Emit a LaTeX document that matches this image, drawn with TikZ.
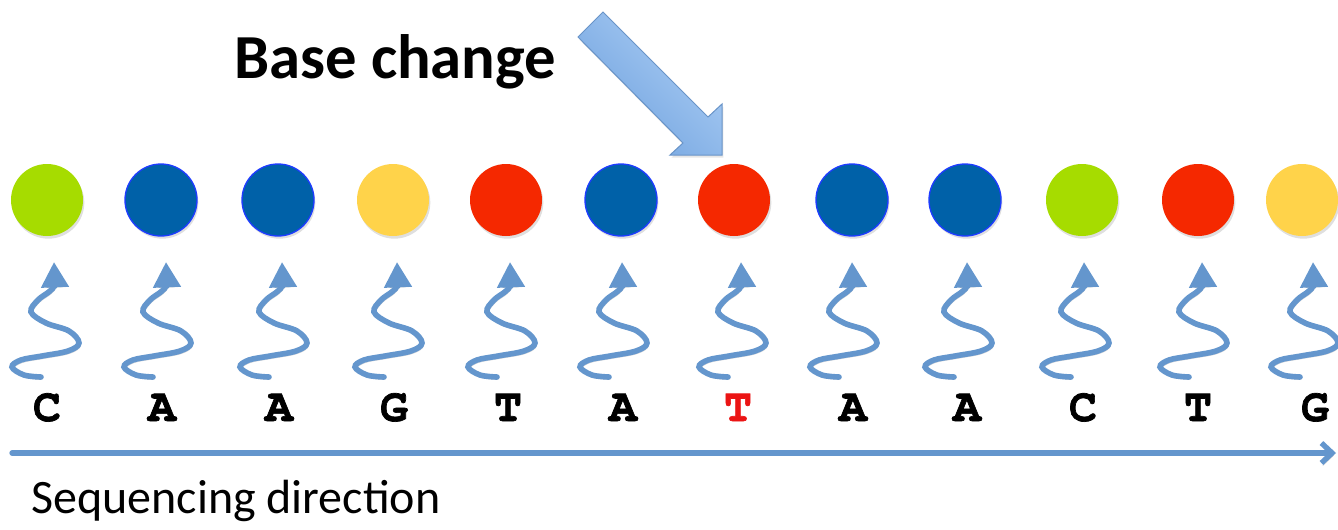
\documentclass[tikz,border=0pt]{standalone}
\usepackage{fontspec}
\setmainfont{Carlito}
\newfontfamily\monofont[BoldFeatures={FakeBold=1.5}]{TeX Gyre Cursor}
\usetikzlibrary{arrows.meta,shadows}

\definecolor{nucgreen}{RGB}{166,220,0}
\definecolor{nucblue}{RGB}{0,97,168}
\definecolor{nucrim}{RGB}{30,60,255}
\definecolor{nucyellow}{RGB}{255,211,74}
\definecolor{nucred}{RGB}{245,40,0}
\definecolor{wavecol}{RGB}{100,150,205}
\definecolor{arrowlight}{RGB}{172,206,245}
\definecolor{arrowdark}{RGB}{112,162,222}
\definecolor{arrowrim}{RGB}{105,148,200}
\definecolor{mutred}{RGB}{235,20,20}

\tikzset{
  ball/.style={circle,minimum size=54pt,inner sep=0pt,
    drop shadow={opacity=0.25,shadow xshift=1pt,shadow yshift=-2pt}},
  gball/.style={ball,fill=nucgreen},
  bball/.style={ball,fill=nucblue,draw=nucrim,line width=1pt},
  yball/.style={ball,fill=nucyellow},
  rball/.style={ball,fill=nucred},
  letter/.style={font=\monofont\bfseries\fontsize{35}{40}\selectfont,anchor=base,inner sep=0pt},
  lineshadow/.style={preaction={draw=black,opacity=0.18,transform canvas={xshift=1pt,yshift=-2pt}}},
  wave/.style={wavecol,line width=4.2pt,line cap=round,lineshadow,
    -{Triangle[width=20pt,length=19pt]}},
  wiggle/.pic={
    \draw[wave] plot[smooth,tension=0.6] coordinates {(-13,115) (-30,113) (-42,105) (-33,98)
      (-12,94) (14,89) (25,81) (15,69) (-8,61) (-23,50) (-16,38) (-4,29) (0,22) (0,0)};
  },
  dirline/.style={wavecol,line width=4pt,line cap=round,lineshadow,
    -{Straight Barb[length=8pt,width=15pt]}},
  bigarrow/.style={draw=arrowrim,line width=0.75pt,top color=arrowlight,bottom color=arrowdark,
    shading angle=-45,drop shadow={opacity=0.2,shadow xshift=1pt,shadow yshift=-2pt}}
}

\begin{document}
\begin{tikzpicture}[x=0.75pt,y=-0.75pt]
  \useasboundingbox (0,0) rectangle (1338,529);

  \node[gball] (b1) at (47,200) {};
  \node[bball] (b2) at (161,200) {};
  \node[bball] (b3) at (278,200) {};
  \node[yball] (b4) at (393,200) {};
  \node[rball] (b5) at (506,200) {};
  \node[bball] (b6) at (621,200) {};
  \node[rball] (b7) at (734,200) {};
  \node[bball] (b8) at (852,200) {};
  \node[bball] (b9) at (965,200) {};
  \node[gball] (b10) at (1082,200) {};
  \node[rball] (b11) at (1198,200) {};
  \node[yball] (b12) at (1302,200) {};

  \pic at (54,262) {wiggle};
  \pic at (166,262) {wiggle};
  \pic at (282,262) {wiggle};
  \pic at (397,262) {wiggle};
  \pic at (510,262) {wiggle};
  \pic at (622,262) {wiggle};
  \pic at (741,262) {wiggle};
  \pic at (852,262) {wiggle};
  \pic at (967,262) {wiggle};
  \pic at (1084,262) {wiggle};
  \pic at (1202,262) {wiggle};
  \pic at (1313,262) {wiggle};

  \node[letter] (s1) at (47,421) {C};
  \node[letter] (s2) at (162,421) {A};
  \node[letter] (s3) at (279,421) {A};
  \node[letter] (s4) at (394,421) {G};
  \node[letter] (s5) at (508,421) {T};
  \node[letter] (s6) at (623,421) {A};
  \node[letter,mutred] (s7) at (738,421) {T};
  \node[letter] (s8) at (853,421) {A};
  \node[letter] (s9) at (967,421) {A};
  \node[letter] (s10) at (1083,421) {C};
  \node[letter] (s11) at (1198,421) {T};
  \node[letter] (s12) at (1315,421) {G};

  \coordinate (dstart) at (12,453);
  \coordinate (dend) at (1336,453);
  \draw[dirline] (dstart) -- (dend);

  \draw[bigarrow] (603,12) -- (708,117) -- (722,104) -- (722,155) -- (670,155)
    -- (683,143) -- (578,37) -- cycle;

  \node[anchor=base west,inner sep=0pt,font=\bfseries\fontsize{47}{54}\selectfont] (change) at (234,78) {Base change};
  \node[anchor=base west,inner sep=0pt,font=\fontsize{36}{42}\selectfont] (direction) at (31,513) {Sequencing direction};
\end{tikzpicture}
\end{document}
